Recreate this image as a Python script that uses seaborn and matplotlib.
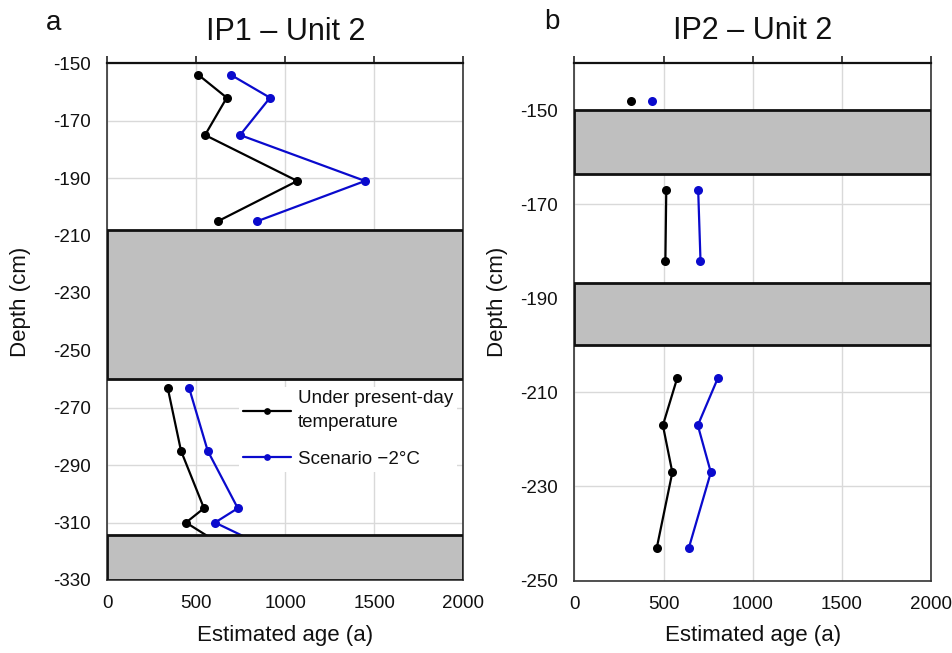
import matplotlib
matplotlib.use("Agg")
import matplotlib.pyplot as plt
import seaborn as sns
import pandas as pd

sns.set_style("white")
plt.rcParams["font.family"] = ["Liberation Sans", "DejaVu Sans"]
plt.rcParams["axes.unicode_minus"] = False
plt.rcParams["text.color"] = "#111111"
plt.rcParams["axes.labelcolor"] = "#111111"
plt.rcParams["xtick.color"] = "#111111"
plt.rcParams["ytick.color"] = "#111111"

# ---------------- data ----------------
# IP1 - Unit 2 (panel a)
ip1_seg1_depth = [-154, -162, -175, -191, -205]
ip1_seg1_present = [511, 671, 549, 1067, 622]
ip1_seg1_minus2 = [693, 914, 746, 1448, 843]
ip1_seg2_depth = [-263, -285, -305, -310, -320]
ip1_seg2_present = [339, 414, 543, 442, 699]
ip1_seg2_minus2 = [459, 564, 733, 605, 941]
ip1_gaps = [(-260, -208), (-330, -314.5)]

# IP2 - Unit 2 (panel b)
ip2_seg1_depth = [-148]
ip2_seg1_present = [316]
ip2_seg1_minus2 = [434]
ip2_seg2_depth = [-167, -182]
ip2_seg2_present = [515, 510]
ip2_seg2_minus2 = [694, 707]
ip2_seg3_depth = [-207, -217, -227, -243]
ip2_seg3_present = [576, 496, 549, 462]
ip2_seg3_minus2 = [804, 692, 765, 642]
ip2_gaps = [(-163.5, -150), (-200, -186.7)]

series_labels = ["Under present-day\ntemperature", "Scenario \u22122\u00b0C"]
x_ticks = [0, 500, 1000, 1500, 2000]
ip1_yticks = list(range(-150, -331, -20))
ip2_yticks = list(range(-150, -251, -20))

C_BLACK = "#000000"
C_BLUE = "#0a0acd"

def build(segs):
    rows = []
    for k, (d, p, m) in enumerate(segs):
        for dd, pp, mm in zip(d, p, m):
            rows.append({"seg": k, "depth": dd, "series": series_labels[0], "age": pp})
            rows.append({"seg": k, "depth": dd, "series": series_labels[1], "age": mm})
    return pd.DataFrame(rows)

df_a = build([(ip1_seg1_depth, ip1_seg1_present, ip1_seg1_minus2),
              (ip1_seg2_depth, ip1_seg2_present, ip1_seg2_minus2)])
df_b = build([(ip2_seg1_depth, ip2_seg1_present, ip2_seg1_minus2),
              (ip2_seg2_depth, ip2_seg2_present, ip2_seg2_minus2),
              (ip2_seg3_depth, ip2_seg3_present, ip2_seg3_minus2)])

fig = plt.figure(figsize=(9.53, 6.53), dpi=100)
ax_a = fig.add_axes([0.1126, 0.1118, 0.3736, 0.7913])
ax_b = fig.add_axes([0.6028, 0.1109, 0.3741, 0.7926])

def draw(ax, df, gaps, ylim, yticks, title, ylab_x):
    colors = {series_labels[0]: C_BLACK, series_labels[1]: C_BLUE}
    for s in series_labels:
        for k, sub in df[df["series"] == s].groupby("seg"):
            sns.lineplot(data=sub, x="age", y="depth", sort=False, estimator=None,
                         color=colors[s], marker="o", markersize=6.5,
                         markeredgewidth=0, linewidth=1.6, ax=ax, zorder=3,
                         label=s if k == 0 else None, legend=False)
    for lo, hi in gaps:
        ax.axhspan(lo, hi, facecolor="#bfbfbf", edgecolor="#111111",
                   linewidth=2, zorder=4)
    ax.set_xlim(0, 2000)
    ax.set_ylim(*ylim)
    ax.set_xticks(x_ticks)
    ax.set_yticks(yticks)
    ax.grid(True, color="#d9d9d9", linewidth=1)
    ax.set_axisbelow(True)
    ax.tick_params(axis="x", top=True, bottom=False, labeltop=False,
                   labelbottom=True, direction="out", length=5, width=1.2,
                   color="#222222", labelsize=13.5, pad=6)
    ax.tick_params(axis="y", left=False, length=0, labelsize=13.5, pad=12)
    for side in ["left", "right", "bottom"]:
        ax.spines[side].set_color("#333333")
        ax.spines[side].set_linewidth(1.2)
    ax.spines["top"].set_color("#111111")
    ax.spines["top"].set_linewidth(1.6)
    ax.set_xlabel("Estimated age (a)", fontsize=16, labelpad=9)
    ax.set_ylabel("Depth (cm)", fontsize=16)
    ax.yaxis.set_label_coords(ylab_x, 0.538)
    ax.set_title(title, fontsize=22, pad=17)

draw(ax_a, df_a, ip1_gaps, (-330, -150), ip1_yticks, "IP1 \u2013 Unit 2", -0.214)
draw(ax_b, df_b, ip2_gaps, (-250, -140), ip2_yticks, "IP2 \u2013 Unit 2", -0.187)

leg = ax_a.legend(loc="upper left", bbox_to_anchor=(0.37, 0.374), fontsize=13.5,
                  frameon=True, fancybox=False, edgecolor="none", facecolor="white",
                  framealpha=1, handlelength=2.55, handletextpad=0.4,
                  labelspacing=1.05, borderpad=0.2, borderaxespad=0, numpoints=1,
                  markerscale=0.75)
for t in leg.get_texts():
    t.set_linespacing(1.5)
leg.set_zorder(5)

fig.text(0.056, 0.965, "a", fontsize=20, ha="center", va="center")
fig.text(0.579, 0.966, "b", fontsize=20, ha="center", va="center")

fig.savefig("out.png", dpi=100)
